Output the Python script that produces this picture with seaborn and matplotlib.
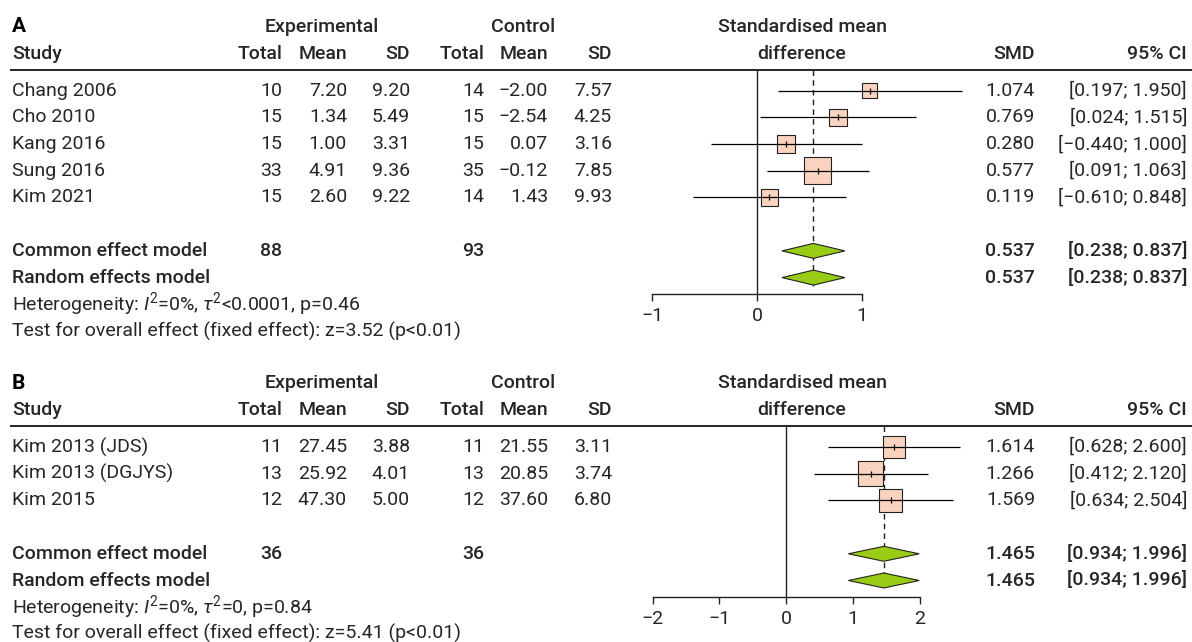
import numpy as np
import pandas as pd
import matplotlib
matplotlib.use("Agg")
import matplotlib.pyplot as plt
import seaborn as sns

# -------------------------
# Data - panel A
# -------------------------
a_study = ["Chang 2006", "Cho 2010", "Kang 2016", "Sung 2016", "Kim 2021"]
a_exp_n = [10, 15, 15, 33, 15]
a_exp_mean = [7.20, 1.34, 1.00, 4.91, 2.60]
a_exp_sd = [9.20, 5.49, 3.31, 9.36, 9.22]
a_ctl_n = [14, 15, 15, 35, 14]
a_ctl_mean = [-2.00, -2.54, 0.07, -0.12, 1.43]
a_ctl_sd = [7.57, 4.25, 3.16, 7.85, 9.93]
a_smd = [1.074, 0.769, 0.280, 0.577, 0.119]
a_lower = [0.197, 0.024, -0.440, 0.091, -0.610]
a_upper = [1.950, 1.515, 1.000, 1.063, 0.848]
a_weight = [11.7, 16.1, 17.3, 38.1, 16.8]
a_pooled = [0.537, 0.238, 0.837]
a_totals = [88, 93]
a_ticks = [-1, 0, 1]
a_het = r"Heterogeneity: $I^2$=0%, $\tau^2$<0.0001, p=0.46"
a_test = "Test for overall effect (fixed effect): z=3.52 (p<0.01)"

# -------------------------
# Data - panel B
# -------------------------
b_study = ["Kim 2013 (JDS)", "Kim 2013 (DGJYS)", "Kim 2015"]
b_exp_n = [11, 13, 12]
b_exp_mean = [27.45, 25.92, 47.30]
b_exp_sd = [3.88, 4.01, 5.00]
b_ctl_n = [11, 13, 12]
b_ctl_mean = [21.55, 20.85, 37.60]
b_ctl_sd = [3.11, 3.74, 6.80]
b_smd = [1.614, 1.266, 1.569]
b_lower = [0.628, 0.412, 0.634]
b_upper = [2.600, 2.120, 2.504]
b_weight = [29.0, 38.7, 32.3]
b_pooled = [1.465, 0.934, 1.996]
b_totals = [36, 36]
b_ticks = [-2, -1, 0, 1, 2]
b_het = r"Heterogeneity: $I^2$=0%, $\tau^2$=0, p=0.84"
b_test = "Test for overall effect (fixed effect): z=5.41 (p<0.01)"

# -------------------------
# Style
# -------------------------
sns.set_theme(style="white")
plt.rcParams['font.family'] = ['Roboto', 'DejaVu Sans']
plt.rcParams['mathtext.fontset'] = 'custom'
plt.rcParams['mathtext.rm'] = 'Roboto'
plt.rcParams['mathtext.it'] = 'Roboto:italic'
plt.rcParams['axes.unicode_minus'] = True

W, H = 1192, 642
FS = 14
ROW = 26.7
INK = "#222222"
BOX = "#F9D3BF"
DIAMOND = "#99CC14"

X_STUDY = 12
COLS = [282, 347, 410, 484, 548, 612]
X_EXP, X_CTL, X_FOREST = 322, 523, 802
X_SMD, X_CI = 1035, 1187


def num(v, d):
    return f"{v:.{d}f}".replace("-", "\u2212")


fig = plt.figure(figsize=(W / 100, H / 100), dpi=100)
bg = fig.add_axes([0, 0, 1, 1])
bg.set_xlim(0, W)
bg.set_ylim(H, 0)
bg.axis('off')


def panel(label, base, study, en, em, es, cn, cm, cs, smd, lo, hi, wt,
          pooled, totals, ticks, het, test, x0, k, kbox):
    n = len(study)
    y = lambda r: base + r * ROW

    # header
    bg.text(X_STUDY, y(-2.39), label, fontsize=FS + 1, fontweight='bold', va='center', ha='left', color='black')
    bg.text(X_EXP, y(-2.39), "Experimental", fontsize=FS, fontweight='medium', va='center', ha='center')
    bg.text(X_CTL, y(-2.39), "Control", fontsize=FS, fontweight='medium', va='center', ha='center')
    bg.text(X_FOREST, y(-2.39), "Standardised mean", fontsize=FS, fontweight='medium', va='center', ha='center')
    bg.text(X_STUDY, y(-1.37), "Study", fontsize=FS, fontweight='medium', va='center', ha='left')
    for x, t in zip(COLS, ["Total", "Mean", "SD", "Total", "Mean", "SD"]):
        bg.text(x, y(-1.37), t, fontsize=FS, fontweight='medium', va='center', ha='right')
    bg.text(X_FOREST, y(-1.37), "difference", fontsize=FS, fontweight='medium', va='center', ha='center')
    bg.text(X_SMD, y(-1.37), "SMD", fontsize=FS, fontweight='medium', va='center', ha='right')
    bg.text(X_CI, y(-1.37), "95% CI", fontsize=FS, fontweight='medium', va='center', ha='right')
    bg.hlines(y(-0.78), X_STUDY - 2, W, color=INK, lw=1.4)

    # study rows
    for i in range(n):
        vals = [str(en[i]), num(em[i], 2), num(es[i], 2), str(cn[i]), num(cm[i], 2), num(cs[i], 2)]
        bg.text(X_STUDY, y(i), study[i], fontsize=FS, va='center', ha='left')
        for x, t in zip(COLS, vals):
            bg.text(x, y(i), t, fontsize=FS, va='center', ha='right')
        bg.text(X_SMD, y(i), num(smd[i], 3), fontsize=FS, va='center', ha='right')
        bg.text(X_CI, y(i), f"[{num(lo[i], 3)}; {num(hi[i], 3)}]", fontsize=FS, va='center', ha='right')

    # pooled rows
    rc, rr = n + 1, n + 2
    bg.text(X_STUDY, y(rc), "Common effect model", fontsize=FS, fontweight='medium', va='center', ha='left')
    bg.text(X_STUDY, y(rr), "Random effects model", fontsize=FS, fontweight='medium', va='center', ha='left')
    bg.text(COLS[0], y(rc), str(totals[0]), fontsize=FS, fontweight='medium', va='center', ha='right')
    bg.text(COLS[3], y(rc), str(totals[1]), fontsize=FS, fontweight='medium', va='center', ha='right')
    for r in (rc, rr):
        bg.text(X_SMD, y(r), num(pooled[0], 3), fontsize=FS, fontweight='medium', va='center', ha='right')
        bg.text(X_CI, y(r), f"[{num(pooled[1], 3)}; {num(pooled[2], 3)}]", fontsize=FS,
                fontweight='medium', va='center', ha='right')
    bg.text(X_STUDY, y(n + 3), het, fontsize=FS, va='center', ha='left')
    bg.text(X_STUDY, y(n + 4), test, fontsize=FS, va='center', ha='left')

    # forest axes (x in SMD units, y in rows)
    ax = fig.add_axes([600 / W, 0, 400 / W, 1])
    ax.set_xlim((600 - x0) / k, (1000 - x0) / k)
    ax.set_ylim((H - base) / ROW, (0 - base) / ROW)
    ax.patch.set_alpha(0)
    for s in ['top', 'left', 'right']:
        ax.spines[s].set_visible(False)
    axis_r = rr + 0.62
    ax.spines['bottom'].set_position(('data', axis_r))
    ax.spines['bottom'].set_bounds(ticks[0], ticks[-1])
    ax.spines['bottom'].set_color(INK)
    ax.spines['bottom'].set_linewidth(1.0)
    ax.set_xticks(ticks)
    ax.set_xticklabels([num(t, 0) for t in ticks])
    ax.set_yticks([])
    ax.tick_params(axis='x', direction='out', length=5, width=1.0, color=INK,
                   labelsize=FS, pad=4, bottom=True)
    ax.grid(False)

    ax.vlines(0, -0.78, axis_r, color=INK, lw=1.0, zorder=1)
    ax.vlines(pooled[0], -0.78, rr + 0.3, color=INK, lw=1.0, linestyles=(0, (4, 3)), zorder=1)

    df = pd.DataFrame({"smd": smd, "row": np.arange(n), "weight": wt})
    sizes = {w: (kbox * np.sqrt(w) * 0.72) ** 2 for w in wt}
    sns.scatterplot(data=df, x="smd", y="row", size="weight", sizes=sizes, marker='s',
                    color=BOX, edgecolor=INK, linewidth=0.8, legend=False, ax=ax, zorder=3, clip_on=False)
    ax.hlines(df["row"], lo, hi, color="black", lw=0.9, zorder=4, clip_on=False)
    sns.scatterplot(data=df, x="smd", y="row", marker='|', s=25, color="black", linewidth=0.9,
                    legend=False, ax=ax, zorder=5, clip_on=False)

    h = 0.28
    for r in (rc, rr):
        ax.fill([pooled[1], pooled[0], pooled[2], pooled[0]], [r, r - h, r, r + h],
                facecolor=DIAMOND, edgecolor=INK, lw=0.8, zorder=3, clip_on=False)
    ax.set_xlabel("")
    ax.set_ylabel("")


panel("A", 90.7, a_study, a_exp_n, a_exp_mean, a_exp_sd, a_ctl_n, a_ctl_mean, a_ctl_sd,
      a_smd, a_lower, a_upper, a_weight, a_pooled, a_totals, a_ticks, a_het, a_test,
      x0=757, k=105, kbox=4.37)
panel("B", 447.0, b_study, b_exp_n, b_exp_mean, b_exp_sd, b_ctl_n, b_ctl_mean, b_ctl_sd,
      b_smd, b_lower, b_upper, b_weight, b_pooled, b_totals, b_ticks, b_het, b_test,
      x0=786, k=66.75, kbox=4.0)

fig.savefig("out.png", dpi=100)
